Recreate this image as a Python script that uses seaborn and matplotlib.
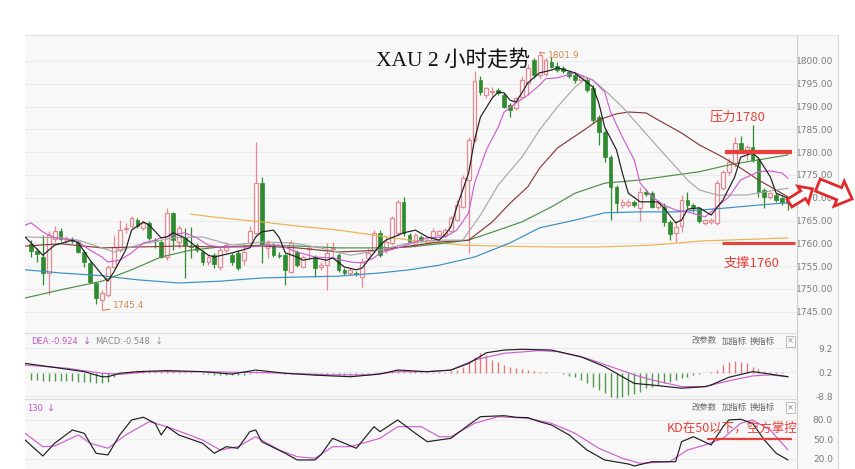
import matplotlib
matplotlib.use("Agg")
import matplotlib.pyplot as plt
import numpy as np
import pandas as pd
import seaborn as sns
from matplotlib.patches import Polygon, Rectangle
from matplotlib.lines import Line2D

# ---------------- data (2-hour XAU candles) ----------------
opens = [1759.8, 1758.3, 1757.1, 1753.5, 1760.9, 1762.6, 1760.5, 1760.8, 1760.4, 1758.2,
         1755.6, 1751.2, 1747.6, 1748.7, 1754.9, 1758.5, 1763.2, 1763.7, 1765.1, 1763.3,
         1764.4, 1760.8, 1760.4, 1757.1, 1766.6, 1760.4, 1761.2, 1759.4, 1759.6, 1758.2,
         1756.0, 1757.4, 1754.9, 1758.5, 1757.4, 1757.8, 1756.3, 1760.0, 1762.2, 1773.2,
         1758.9, 1759.6, 1757.5, 1757.4, 1753.8, 1758.2, 1754.9, 1758.8, 1757.1, 1754.9,
         1755.2, 1758.8, 1757.4, 1754.2, 1753.4, 1753.5, 1752.7, 1756.7, 1758.5, 1762.2,
         1758.5, 1760.0, 1762.2, 1769.1, 1761.9, 1759.6, 1761.4, 1760.0, 1760.7, 1761.9,
         1761.9, 1762.6, 1765.1, 1768.0, 1773.9, 1782.7, 1795.8, 1792.5, 1793.2, 1793.6,
         1792.5, 1790.3, 1789.6, 1792.2, 1795.1, 1800.2, 1796.9, 1797.1, 1799.8, 1798.8,
         1798.4, 1797.6, 1796.9, 1795.8, 1795.8, 1794.1, 1787.8, 1784.5, 1779.0, 1772.4,
         1768.4, 1768.4, 1769.1, 1767.7, 1771.3, 1771.0, 1768.0, 1768.0, 1764.7, 1762.2,
         1763.7, 1769.5, 1768.4, 1767.7, 1764.4, 1764.6, 1764.4, 1772.1, 1775.7, 1777.6,
         1781.9, 1780.5, 1781.2, 1778.6, 1771.7, 1770.2, 1770.6, 1769.9, 1769.5]
highs = [1760.7, 1758.9, 1761.9, 1762.6, 1763.7, 1763.4, 1761.5, 1761.3, 1760.7, 1758.5,
         1756.1, 1751.6, 1749.8, 1755.2, 1761.9, 1765.1, 1764.5, 1766.0, 1765.6, 1764.9,
         1764.8, 1761.1, 1760.7, 1767.7, 1766.9, 1764.0, 1763.3, 1763.6, 1760.0, 1758.5,
         1757.4, 1757.8, 1759.2, 1760.4, 1757.9, 1758.5, 1760.0, 1763.7, 1782.3, 1774.6,
         1760.7, 1760.1, 1758.0, 1757.9, 1760.7, 1758.5, 1757.4, 1759.6, 1757.4, 1755.9,
         1760.1, 1760.4, 1757.9, 1754.6, 1754.6, 1753.9, 1756.8, 1759.0, 1763.0, 1763.0,
         1761.5, 1765.9, 1769.5, 1770.2, 1762.3, 1762.3, 1761.9, 1761.2, 1763.3, 1763.0,
         1763.4, 1765.9, 1769.5, 1775.0, 1783.4, 1797.7, 1796.6, 1794.4, 1794.4, 1794.0,
         1792.9, 1790.8, 1792.2, 1796.6, 1799.3, 1800.7, 1801.9, 1800.6, 1800.9, 1799.8,
         1798.8, 1798.0, 1797.4, 1796.9, 1796.3, 1794.7, 1788.2, 1784.9, 1779.4, 1772.8,
         1769.7, 1769.7, 1769.5, 1772.4, 1771.9, 1771.5, 1769.3, 1768.8, 1765.1, 1764.8,
         1770.6, 1771.3, 1768.8, 1768.0, 1765.3, 1765.6, 1773.9, 1776.1, 1778.7, 1783.4,
         1783.5, 1781.6, 1786.0, 1779.0, 1772.1, 1771.3, 1771.0, 1770.4, 1769.9]
lows = [1757.1, 1756.0, 1750.9, 1748.7, 1760.4, 1760.5, 1760.0, 1760.0, 1757.9, 1754.9,
        1751.3, 1746.8, 1745.4, 1748.3, 1754.5, 1758.2, 1762.3, 1763.4, 1763.4, 1763.0,
        1760.7, 1759.0, 1756.8, 1756.3, 1758.5, 1759.0, 1752.4, 1756.8, 1758.1, 1755.2,
        1755.2, 1754.6, 1754.2, 1757.8, 1755.2, 1754.2, 1755.2, 1759.6, 1761.9, 1755.6,
        1756.8, 1757.0, 1756.8, 1750.8, 1753.5, 1754.8, 1754.6, 1756.3, 1752.7, 1754.2,
        1749.8, 1757.1, 1753.7, 1753.0, 1753.0, 1752.8, 1750.5, 1756.3, 1757.9, 1757.0,
        1757.9, 1759.6, 1761.5, 1761.5, 1760.1, 1759.2, 1760.2, 1759.6, 1760.4, 1761.5,
        1761.4, 1762.2, 1764.8, 1767.7, 1757.8, 1782.3, 1792.5, 1791.8, 1792.2, 1792.5,
        1789.6, 1787.8, 1789.2, 1791.8, 1792.5, 1796.3, 1796.3, 1796.6, 1798.4, 1797.6,
        1797.3, 1796.3, 1795.2, 1795.4, 1793.2, 1786.4, 1781.6, 1777.9, 1765.1, 1766.7,
        1767.7, 1768.0, 1768.0, 1764.8, 1770.4, 1767.7, 1767.3, 1763.8, 1760.7, 1760.4,
        1762.5, 1767.7, 1766.9, 1764.5, 1764.0, 1764.2, 1764.0, 1771.7, 1775.0, 1776.8,
        1779.8, 1778.3, 1777.9, 1770.2, 1767.7, 1769.7, 1769.1, 1768.4, 1767.3]
closes = [1758.4, 1757.7, 1753.4, 1761.9, 1762.6, 1760.9, 1760.9, 1760.6, 1758.2, 1756.0,
          1751.6, 1747.9, 1749.0, 1754.9, 1759.3, 1763.0, 1763.4, 1765.5, 1763.7, 1764.4,
          1761.1, 1760.6, 1757.1, 1766.6, 1760.7, 1763.3, 1759.6, 1759.1, 1758.5, 1756.0,
          1757.1, 1755.5, 1758.5, 1759.6, 1756.0, 1754.5, 1758.2, 1762.6, 1773.2, 1759.6,
          1760.0, 1757.4, 1757.3, 1754.2, 1760.0, 1755.2, 1757.1, 1759.0, 1754.5, 1755.2,
          1757.8, 1759.0, 1754.2, 1753.4, 1754.2, 1753.3, 1756.0, 1757.8, 1762.2, 1757.4,
          1760.4, 1765.5, 1769.1, 1762.2, 1760.4, 1761.9, 1760.7, 1760.7, 1762.6, 1762.6,
          1763.0, 1765.5, 1768.4, 1774.3, 1782.7, 1795.5, 1793.3, 1794.0, 1793.4, 1792.9,
          1790.0, 1789.2, 1791.8, 1795.8, 1798.4, 1796.9, 1801.3, 1800.2, 1798.7, 1798.0,
          1797.7, 1796.6, 1795.8, 1796.6, 1793.6, 1787.1, 1784.5, 1779.0, 1772.4, 1768.8,
          1769.1, 1769.1, 1768.4, 1771.3, 1770.8, 1768.0, 1768.8, 1764.7, 1762.1, 1763.6,
          1769.5, 1768.4, 1767.7, 1764.8, 1765.1, 1765.1, 1773.2, 1775.7, 1777.9, 1781.9,
          1780.5, 1781.2, 1778.3, 1771.3, 1770.2, 1771.0, 1769.5, 1769.1, 1768.8]

# moving averages (bar index, price)
ma5_idx = [-1, 2, 4, 7, 8, 10, 12, 13, 14, 16, 17, 19, 20, 22, 23, 24, 26, 28, 30, 31,
           34, 37, 38, 39, 41, 42, 43, 45, 46, 48, 50, 51, 53, 55, 56, 57, 59, 60, 63, 65,
           67, 69, 70, 71, 72, 74, 75, 76, 78, 79, 80, 81, 82, 83, 84, 86, 88, 89, 92, 93,
           95, 96, 97, 99, 100, 101, 103, 104, 106, 107, 109, 110, 111, 113, 115, 117, 119, 120, 122, 123,
           125, 126, 128]
ma5_val = [1761.4, 1757.4, 1759.6, 1760.7, 1760.1, 1756.3, 1753.1, 1751.7, 1753.7, 1758.5,
           1762.9, 1764.7, 1764.0, 1761.2, 1761.4, 1762.3, 1761.2, 1759.2, 1757.4, 1757.0,
           1757.9, 1759.0, 1761.4, 1762.5, 1762.9, 1761.2, 1757.9, 1757.0, 1756.3, 1756.8,
           1756.3, 1756.8, 1754.8, 1754.2, 1754.6, 1756.3, 1759.6, 1760.7, 1762.3, 1762.9,
           1761.4, 1760.7, 1761.9, 1763.6, 1768.0, 1775.4, 1782.7, 1787.7, 1791.9, 1793.2,
           1793.0, 1791.4, 1791.0, 1793.0, 1795.2, 1797.4, 1798.0, 1798.5, 1797.4, 1796.3,
           1794.3, 1790.8, 1785.5, 1780.5, 1775.4, 1771.0, 1769.1, 1769.1, 1769.1, 1767.8,
           1764.5, 1765.1, 1767.5, 1767.8, 1766.2, 1769.5, 1774.6, 1778.9, 1779.8, 1778.7,
           1774.6, 1771.0, 1769.9]
ma10_idx = [-1, 0, 2, 4, 7, 8, 10, 12, 13, 15, 17, 19, 21, 22, 25, 26, 28, 30, 32, 37,
            40, 42, 45, 48, 51, 54, 56, 58, 59, 62, 65, 67, 70, 72, 74, 75, 77, 79, 80, 82,
            84, 86, 87, 89, 92, 93, 95, 97, 98, 100, 102, 103, 105, 107, 109, 111, 114, 118, 120, 123,
            125, 127, 128]
ma10_val = [1764.0, 1764.5, 1762.5, 1761.2, 1760.7, 1760.3, 1758.5, 1757.0, 1755.9, 1756.3,
            1757.9, 1760.1, 1760.7, 1761.2, 1762.1, 1762.3, 1761.2, 1759.6, 1759.2, 1759.2,
            1759.6, 1759.6, 1758.1, 1757.0, 1756.8, 1755.9, 1755.7, 1756.8, 1757.9, 1759.0,
            1760.3, 1761.2, 1761.4, 1762.9, 1766.7, 1773.2, 1780.5, 1785.5, 1788.8, 1790.8,
            1792.5, 1794.7, 1796.1, 1796.3, 1797.4, 1796.9, 1795.8, 1793.2, 1788.8, 1783.3,
            1778.3, 1773.2, 1770.2, 1768.4, 1767.3, 1766.9, 1765.8, 1770.2, 1773.9, 1775.7,
            1775.9, 1775.4, 1774.3]
ma20_idx = [-1, 5, 8, 12, 14, 18, 24, 29, 34, 39, 44, 49, 54, 59, 64, 69, 73, 76, 79, 83,
            86, 89, 92, 94, 95, 97, 100, 103, 106, 109, 111, 113, 116, 121, 126, 128]
ma20_val = [1761.4, 1761.2, 1760.7, 1759.0, 1758.1, 1759.6, 1761.2, 1761.4, 1759.6, 1760.3,
            1760.1, 1759.0, 1757.4, 1758.5, 1760.1, 1760.7, 1760.7, 1766.2, 1772.8, 1778.9,
            1784.9, 1789.9, 1794.3, 1796.3, 1795.8, 1793.6, 1789.9, 1785.5, 1781.1, 1776.8,
            1773.9, 1771.7, 1770.6, 1770.6, 1771.7, 1772.1]
ma30_idx = [-1, 5, 12, 18, 25, 32, 39, 45, 52, 59, 64, 69, 74, 78, 81, 84, 86, 89, 93, 96,
            99, 101, 104, 106, 110, 113, 117, 120, 123, 128]
ma30_val = [1759.4, 1759.9, 1759.0, 1759.2, 1759.4, 1759.2, 1759.4, 1759.0, 1758.1, 1758.5,
            1759.4, 1760.3, 1760.7, 1764.7, 1768.8, 1772.4, 1776.5, 1780.9, 1784.4, 1787.1,
            1788.4, 1788.8, 1788.6, 1787.1, 1784.2, 1781.6, 1778.9, 1776.5, 1773.9, 1770.2]
ma60_idx = [-1, 5, 12, 17, 22, 27, 32, 39, 45, 52, 59, 64, 69, 74, 79, 83, 88, 92, 97, 103,
            109, 113, 118, 123, 128]
ma60_val = [1748.0, 1749.8, 1751.7, 1754.2, 1757.0, 1758.5, 1759.2, 1759.6, 1759.4, 1759.0,
            1759.0, 1759.2, 1759.9, 1760.7, 1762.9, 1764.7, 1768.0, 1771.0, 1773.2, 1773.9,
            1775.0, 1775.7, 1777.2, 1778.3, 1779.4]
ma120_idx = [-1, 5, 12, 18, 25, 32, 39, 45, 52, 59, 64, 69, 75, 81, 86, 92, 97, 103, 109, 113,
             118, 123, 128]
ma120_val = [1754.2, 1753.5, 1752.9, 1752.0, 1751.3, 1751.7, 1752.4, 1752.6, 1752.8, 1753.5,
             1754.2, 1755.2, 1757.0, 1760.1, 1763.4, 1765.1, 1766.7, 1766.9, 1766.9, 1767.3,
             1767.8, 1768.4, 1768.9]
ma250_idx = [27, 32, 39, 45, 52, 58, 64, 73, 79, 88, 96, 105, 113, 122, 128]
ma250_val = [1766.4, 1765.6, 1764.7, 1763.8, 1762.9, 1761.8, 1760.7, 1759.6, 1759.4, 1759.2,
             1759.2, 1759.6, 1760.5, 1760.9, 1761.2]

# MACD
dif_idx = [-1, 3, 9, 12, 13, 15, 18, 23, 29, 34, 38, 43, 48, 54, 59, 62, 67, 71, 74, 77,
           80, 83, 88, 93, 97, 100, 102, 105, 110, 114, 115, 118, 122, 124, 128]
dif_val = [3.6, 2.4, 0.5, -1.4, -1.4, -0.1, 0.5, 0.9, 0.5, -0.4, 1.1, -0.1, -0.8, -1.4, -0.4,
           1.1, 0.5, 1.1, 3.6, 7.6, 8.6, 8.9, 8.6, 6.1, 2.4, -1.4, -3.9, -4.5, -5.7, -5.1,
           -4.5, -1.6, 0.5, -0.1, -1.4]
dea_idx = [-1, 6, 12, 15, 20, 29, 40, 51, 57, 62, 67, 71, 75, 80, 86, 89, 94, 98, 102, 105,
           110, 114, 118, 122, 125, 128]
dea_val = [3.0, 1.8, -0.1, -0.5, 0.5, 0.5, 0.1, -0.7, -0.7, 0.5, 0.5, 1.1, 4.9, 7.4, 8.4,
           8.0, 5.5, 2.4, -0.7, -2.6, -5.1, -5.1, -2.9, -1.1, -0.7, -1.4]
macd_hist = [-2.6, -2.8, -3.0, -2.9, -3.0, -3.1, -3.0, -3.1, -3.2, -3.3, -3.5, -3.6, -3.8, -3.5,
             -1.5, -0.5, 0.3, 0.8, 1.0, 1.1, 1.0, 0.8, 0.6, 0.8, 0.9, 0.8, 0.5, 0.3, 0.1, -0.2,
             -0.5, -0.7, -0.8, -0.7, -0.8, -0.9, -0.6, -0.2, 0.6, 0.3, 0.2, 0.1, -0.1, -0.5, -0.3,
             -0.4, -0.5, -0.4, -0.6, -0.7, -0.6, -0.5, -0.7, -0.9, -0.9, -0.9, -0.7, -0.4, 0.1, 0.2,
             0.4, 0.7, 1.0, 0.8, 0.7, 0.6, 0.5, 0.4, 0.4, 0.4, 0.5, 0.7,
             1.1, 2.4, 4.3, 6.1, 7.4, 6.8, 4.9, 4.3, 3.0, 2.4, 1.8, 1.4, 1.1, 0.9, 0.5, 0.3, 0.1,
             -0.1, -0.5, -1.0, -1.4, -2.6, -3.9, -5.1, -6.4, -7.6, -8.9, -9.3, -9.0, -8.4, -7.8,
             -7.0, -5.8, -5.1, -4.5, -3.9, -3.3, -2.6, -2.0, -1.6, -0.8, -0.4, -0.1, 0.5, 1.1,
             3.0, 4.3, 4.6, 4.3, 3.6, 2.4, 1.4, 0.9, 0.5, 0.3, 0.2, 0.1]

# KD
k_idx = [-1, 2, 4, 7, 9, 11, 13, 15, 17, 19, 21, 22, 23, 25, 29, 31, 33, 35, 37, 38,
         39, 43, 45, 48, 49, 51, 53, 55, 58, 59, 62, 65, 67, 71, 74, 76, 80, 82, 84, 86,
         88, 91, 94, 97, 101, 102, 105, 109, 110, 112, 115, 117, 118, 120, 122, 124, 126, 128]
k_val = [49.2, 24.6, 44.2, 64.6, 59.5, 28.8, 26.2, 56.9, 80.0, 84.2, 74.9, 56.9, 69.7, 56.9,
         44.2, 28.8, 38.9, 36.5, 62.0, 64.6, 46.6, 28.8, 18.5, 18.5, 26.2, 51.8, 44.2, 36.5,
         69.7, 62.0, 80.0, 59.5, 46.6, 51.8, 72.3, 85.1, 86.6, 84.2, 83.5, 77.4, 72.3, 56.9,
         33.8, 18.5, 12.3, 9.2, 15.8, 15.8, 46.6, 54.3, 41.5, 69.7, 80.0, 81.1, 74.9, 49.2,
         28.8, 18.5]
d_idx = [-1, 2, 4, 8, 10, 13, 16, 20, 23, 29, 32, 35, 38, 42, 45, 48, 51, 54, 59, 62,
         66, 69, 71, 75, 79, 84, 88, 92, 96, 100, 103, 108, 111, 114, 117, 120, 122, 125, 128]
d_val = [59.5, 38.9, 40.0, 56.9, 44.2, 36.5, 56.9, 77.4, 69.7, 49.2, 33.8, 38.9, 54.3, 33.8,
         23.5, 21.1, 38.9, 38.9, 51.8, 69.7, 69.7, 54.3, 54.3, 74.9, 85.1, 82.6, 74.9, 59.5,
         36.5, 21.1, 13.4, 15.8, 33.8, 41.5, 51.8, 74.9, 80.0, 64.6, 33.8]

price_ticks = [1800, 1795, 1790, 1785, 1780, 1775, 1770, 1765, 1760, 1755, 1750, 1745]
macd_ticks = [9.2, 0.2, -8.8]
kd_ticks = [80.0, 50.0, 20.0]

peak_idx, peak_val = 86, 1801.9
trough_idx, trough_val = 12, 1745.4
resistance, support, kd_level = 1780, 1760, 50
tool_words = ["改参数", "加指标", "换指标"]

# ---------------- style ----------------
sns.set_theme(style="white")
plt.rcParams['font.family'] = ['DejaVu Sans', 'Noto Sans CJK SC']
plt.rcParams['axes.unicode_minus'] = False
CJK = ['Noto Sans CJK SC', 'DejaVu Sans']

W, H = 855, 469
fig = plt.figure(figsize=(W / 100, H / 100), dpi=100, facecolor='white')
BG = '#f8f8f8'
GRID = '#ebebeb'
TICKC = '#7a7a7a'


def box(x0, y0, x1, y1):
    return [x0 / W, 1 - y1 / H, (x1 - x0) / W, (y1 - y0) / H]


# widget background incl. the axis label strip
fig.add_artist(Rectangle((25 / W, 0), (838 - 25) / W, 1 - 35 / H, transform=fig.transFigure,
                         facecolor=BG, edgecolor='none', zorder=0))
fig.add_artist(Line2D([838 / W, 838 / W], [0, 1 - 35 / H], transform=fig.transFigure,
                      color='#d6d6d6', lw=0.8))
fig.add_artist(Line2D([25 / W, 838 / W], [1 - 35 / H, 1 - 35 / H], transform=fig.transFigure,
                      color='#e2e2e2', lw=0.8))

ax = fig.add_axes(box(25, 35, 797, 333))
axm = fig.add_axes(box(25, 333, 797, 399.3), sharex=ax)
axk = fig.add_axes(box(25, 399.3, 797, 469), sharex=ax)

for a in (ax, axm, axk):
    a.set_facecolor(BG)
    for s in ('left', 'bottom'):
        a.spines[s].set_visible(False)
    a.spines['top'].set_color('#dcdcdc')
    a.spines['right'].set_color('#cfcfcf')
    a.spines['top'].set_linewidth(0.8)
    a.spines['right'].set_linewidth(0.8)
    a.yaxis.tick_right()
    a.tick_params(axis='y', length=0, pad=25.9, labelsize=6.5, labelcolor=TICKC)
    a.tick_params(axis='x', bottom=False, labelbottom=False)
    a.grid(axis='y', color=GRID, lw=0.8)
    a.grid(axis='x', visible=False)
    a.set_axisbelow(True)

# ---------------- candles ----------------
idx = np.arange(len(opens))
o = np.array(opens); c = np.array(closes); h = np.array(highs); l = np.array(lows)
up = c >= o
UP_C = '#e58a92'
DN_C = '#2e8b30'
ax.vlines(idx[up], l[up], h[up], color=UP_C, lw=0.9, zorder=2)
ax.vlines(idx[~up], l[~up], h[~up], color=DN_C, lw=0.9, zorder=2)
bw = 0.64
ax.bar(idx[up], np.maximum(c[up] - o[up], 0.15), bottom=o[up], width=bw,
       facecolor=BG, edgecolor=UP_C, linewidth=0.9, zorder=3)
ax.bar(idx[~up], np.maximum(o[~up] - c[~up], 0.15), bottom=c[~up], width=bw,
       facecolor=DN_C, edgecolor=DN_C, linewidth=0.5, zorder=3)

ma_specs = [
    (ma250_idx, ma250_val, '#e9b44c'),
    (ma120_idx, ma120_val, '#3b8fc4'),
    (ma60_idx, ma60_val, '#4a8f45'),
    (ma30_idx, ma30_val, '#8a3b3b'),
    (ma20_idx, ma20_val, '#a8a8a8'),
    (ma10_idx, ma10_val, '#cf5fd0'),
    (ma5_idx, ma5_val, '#1e1e1e'),
]
for xi, yv, col in ma_specs:
    sns.lineplot(x=xi, y=yv, ax=ax, color=col, lw=0.85, estimator=None, sort=False,
                 legend=False, zorder=4)

ax.set_ylim(1740.33, 1805.70)
ax.set_yticks(price_ticks)
ax.set_yticklabels([f"{v:.2f}" for v in price_ticks])

# annotations in main panel
ANN = '#d08848'
ax.annotate(f"{peak_val}", xy=(peak_idx, peak_val), xytext=(87.4, 1801.1),
            fontsize=6.5, color=ANN, va='center', ha='left',
            arrowprops=dict(arrowstyle='-', color=ANN, lw=0.8, shrinkA=0, shrinkB=0),
            zorder=6)
ax.annotate(f"{trough_val}", xy=(trough_idx + 0.2, trough_val - 0.1), xytext=(13.9, 1746.3),
            fontsize=6.5, color=ANN, va='center', ha='left',
            arrowprops=dict(arrowstyle='-', color=ANN, lw=0.8, shrinkA=0, shrinkB=0),
            zorder=6)
RED = '#e8403a'
ax.hlines(resistance, 117.4, 128.7, color=RED, lw=3.0, zorder=6)
ax.hlines(support, 116.8, 129.2, color=RED, lw=2.2, zorder=6)
ax.text(119.4, 1787.7, f"压力{resistance}", ha='center', va='center', color=RED,
        fontsize=9.5, family=CJK, zorder=6)
ax.text(121.9, 1755.7, f"支撑{support}", ha='center', va='center', color=RED,
        fontsize=9.5, family=CJK, zorder=6)

fig.text(452.5 / W, 1 - 60 / H, "XAU 2 小时走势", ha='center', va='center', fontsize=15.5,
         family=['Liberation Serif', 'Noto Sans CJK SC'], color='#111111')

# ---------------- MACD ----------------
hist = np.array(macd_hist)
pos = hist >= 0
axm.vlines(idx[pos], 0, hist[pos], color='#e07a7e', lw=1.0, zorder=2)
axm.vlines(idx[~pos], 0, hist[~pos], color='#4f9a4f', lw=1.0, zorder=2)
sns.lineplot(x=dea_idx, y=dea_val, ax=axm, color='#cf5fd0', lw=0.85, estimator=None,
             sort=False, legend=False, zorder=3)
sns.lineplot(x=dif_idx, y=dif_val, ax=axm, color='#1e1e1e', lw=0.85, estimator=None,
             sort=False, legend=False, zorder=4)
axm.set_ylim(-9.86, 15.0)
axm.set_yticks(macd_ticks)
axm.set_yticklabels([f"{v:.1f}" for v in macd_ticks])

# ---------------- KD ----------------
sns.lineplot(x=d_idx, y=d_val, ax=axk, color='#cf5fd0', lw=0.85, estimator=None,
             sort=False, legend=False, zorder=3)
sns.lineplot(x=k_idx, y=k_val, ax=axk, color='#1e1e1e', lw=0.85, estimator=None,
             sort=False, legend=False, zorder=4)
axk.hlines(kd_level, 114.3, 128.7, color=RED, lw=1.6, zorder=5)
axk.set_ylim(4.6, 111.8)
axk.set_yticks(kd_ticks)
axk.set_yticklabels([f"{v:.1f}" for v in kd_ticks])

for a in (ax, axm, axk):
    for lab in a.get_yticklabels():
        lab.set_horizontalalignment('right')
    a.set_xlabel('')
    a.set_ylabel('')
ax.set_xlim(-1.015, 129.52)

fig.text(732.5 / W, 1 - 428 / H, "KD在50以下，空方掌控", ha='center', va='center',
         color=RED, fontsize=9, family=CJK)

# panel header texts (chained so they never collide)
MAG = '#c455c4'
prev = fig.text(31 / W, 1 - 341 / H, "DEA:-0.924", color=MAG, fontsize=6, va='center', ha='left')
for txt, col in [("↓", MAG), ("MACD:-0.548", '#888888'), ("↓", '#999999')]:
    prev = plt.annotate(txt, xy=(1, 0.5), xycoords=prev, xytext=(3.5, 0),
                        textcoords='offset points', va='center', ha='left',
                        color=col, fontsize=6 if len(txt) > 1 else 7, annotation_clip=False)
prev = fig.text(27 / W, 1 - 408 / H, "130", color=MAG, fontsize=6, va='center', ha='left')
plt.annotate("↓", xy=(1, 0.5), xycoords=prev, xytext=(3, 0), textcoords='offset points',
             va='center', ha='left', color=MAG, fontsize=7, annotation_clip=False)

for yy in (341, 407.5):
    for word, xx in zip(tool_words, (692, 722, 750)):
        fig.text(xx / W, 1 - yy / H, word, color='#666666', fontsize=6,
                 va='center', ha='left', family=CJK)
    fig.text(790.5 / W, 1 - yy / H, "×", color='#888888', fontsize=6, va='center',
             ha='center', bbox=dict(boxstyle='square,pad=0.12', fc='white', ec='#b0b0b0', lw=0.6))


# hollow block arrows on the right
def block_arrow(cx, cy, L, s, hw, hl, ang):
    pts = np.array([(-L / 2, -s), (L / 2 - hl, -s), (L / 2 - hl, -hw), (L / 2, 0),
                    (L / 2 - hl, hw), (L / 2 - hl, s), (-L / 2, s)])
    t = np.deg2rad(ang)
    R = np.array([[np.cos(t), -np.sin(t)], [np.sin(t), np.cos(t)]])
    p = pts @ R.T
    p[:, 0] += cx
    p[:, 1] += (H - cy)
    return Polygon(p / 100.0, closed=True, transform=fig.dpi_scale_trans,
                   facecolor='white', edgecolor='#e02a2a', lw=2.0, zorder=10)


fig.add_artist(block_arrow(801, 196, 27, 4.5, 10, 11, 32))
fig.add_artist(block_arrow(835, 192, 37, 6.5, 13.5, 14, -22))

fig.savefig("out.png", dpi=100, facecolor='white')
